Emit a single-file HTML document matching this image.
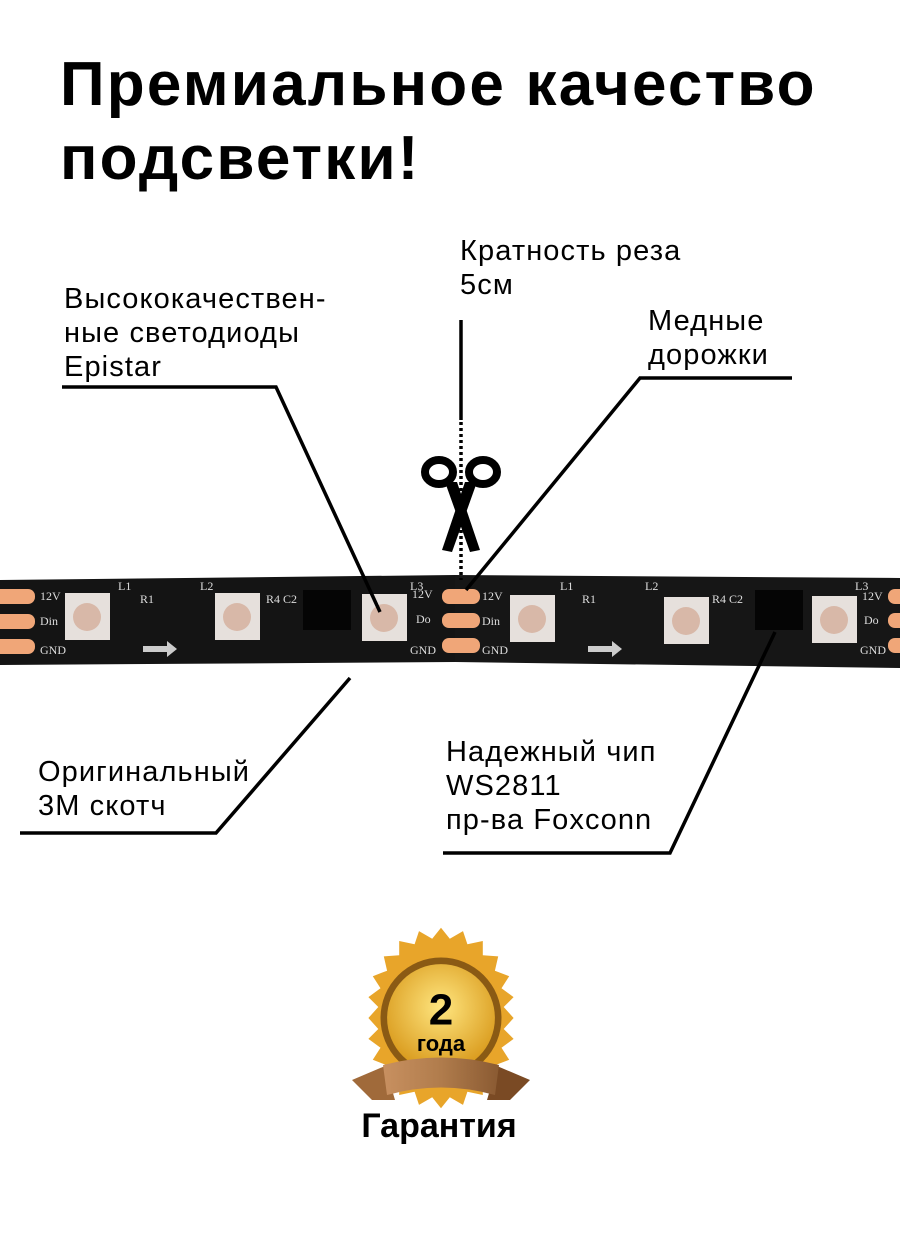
<!DOCTYPE html>
<html><head><meta charset="utf-8"><style>
html,body{margin:0;padding:0;background:#fff}
body{width:900px;height:1250px;position:relative;overflow:hidden;font-family:"Liberation Sans",sans-serif}
.t{position:absolute;left:60px;top:48px;font-size:62px;font-weight:bold;line-height:74px;color:#000;letter-spacing:2.2px}
.l{position:absolute;font-size:29px;line-height:34px;color:#000;letter-spacing:1.1px}
</style></head><body>
<div class="t">Премиальное качество<br>подсветки!</div>
<div class="l" style="left:460px;top:234px">Кратность реза<br>5см</div>
<div class="l" style="left:64px;top:282px">Высококачествен-<br>ные светодиоды<br>Epistar</div>
<div class="l" style="left:648px;top:304px">Медные<br>дорожки</div>
<div class="l" style="left:38px;top:755px">Оригинальный<br>3M скотч</div>
<div class="l" style="left:446px;top:735px">Надежный чип<br>WS2811<br>пр-ва Foxconn</div>
<svg width="900" height="1250" style="position:absolute;left:0;top:0">
<defs>
<radialGradient id="g" cx="50%" cy="40%" r="60%"><stop offset="0" stop-color="#ffe680"/><stop offset="1" stop-color="#d99a1c"/></radialGradient>
<linearGradient id="rb" x1="0" x2="1"><stop offset="0" stop-color="#c89060"/><stop offset=".5" stop-color="#b07c4c"/><stop offset="1" stop-color="#8a5a32"/></linearGradient>
</defs>
<polygon points="0,580 455,575 455,662 0,665" fill="#141414"/>
<polygon points="455,575 900,578 900,668 455,662" fill="#161616"/>
<g fill="#f0a678">
<rect x="-10" y="589" width="45" height="15" rx="7"/><rect x="-10" y="614" width="45" height="15" rx="7"/><rect x="-10" y="639" width="45" height="15" rx="7"/>
<rect x="442" y="589" width="38" height="15" rx="7"/><rect x="442" y="613" width="38" height="15" rx="7"/><rect x="442" y="638" width="38" height="15" rx="7"/>
<rect x="888" y="589" width="20" height="15" rx="7"/><rect x="888" y="613" width="20" height="15" rx="7"/><rect x="888" y="638" width="20" height="15" rx="7"/>
</g>
<g fill="#e6e0dc">
<rect x="65" y="593" width="45" height="47"/><rect x="215" y="593" width="45" height="47"/><rect x="362" y="594" width="45" height="47"/>
<rect x="510" y="595" width="45" height="47"/><rect x="664" y="597" width="45" height="47"/><rect x="812" y="596" width="45" height="47"/>
</g>
<g fill="#d8b8a8"><circle cx="87" cy="617" r="14"/><circle cx="237" cy="617" r="14"/><circle cx="384" cy="618" r="14"/><circle cx="532" cy="619" r="14"/><circle cx="686" cy="621" r="14"/><circle cx="834" cy="620" r="14"/></g>
<rect x="303" y="590" width="48" height="40" fill="#050505"/><rect x="755" y="590" width="48" height="40" fill="#050505"/>
<g fill="#ddd" font-family="Liberation Serif" font-size="12">
<text x="40" y="600">12V</text><text x="40" y="625">Din</text><text x="40" y="654">GND</text>
<text x="412" y="598">12V</text><text x="416" y="623">Do</text><text x="410" y="654">GND</text>
<text x="482" y="600">12V</text><text x="482" y="625">Din</text><text x="482" y="654">GND</text>
<text x="862" y="600">12V</text><text x="864" y="624">Do</text><text x="860" y="654">GND</text>
<text x="118" y="590">L1</text><text x="200" y="590">L2</text><text x="410" y="590">L3</text><text x="560" y="590">L1</text><text x="645" y="590">L2</text><text x="855" y="590">L3</text>
<text x="140" y="603">R1</text><text x="266" y="603">R4 C2</text><text x="582" y="603">R1</text><text x="712" y="603">R4 C2</text>
</g>
<path d="M143 646h24v-5l10 8-10 8v-5h-24z" fill="#ccc"/><path d="M588 646h24v-5l10 8-10 8v-5h-24z" fill="#ccc"/>
<g stroke="#000" stroke-width="3.5" fill="none">
<polyline points="62,387 276,387 380,612"/>
<polyline points="792,378 640,378 466,590"/>
<polyline points="20,833 216,833 350,678"/>
<polyline points="443,853 670,853 775,632"/>
<line x1="461" y1="320" x2="461" y2="420"/>
<line x1="461" y1="422" x2="461" y2="580" stroke-dasharray="3,3"/>
</g>
<g fill="#000">
<ellipse cx="439" cy="472" rx="14" ry="12" fill="none" stroke="#000" stroke-width="8"/>
<ellipse cx="483" cy="472" rx="14" ry="12" fill="none" stroke="#000" stroke-width="8"/>
<polygon points="445,482 457,482 480,550 470,552"/>
<polygon points="477,482 465,482 442,550 452,552"/>
</g>
<g transform="translate(441,1018) scale(1.1)">
<polygon fill="#e8a52a" points="0,-82 8,-72 20,-79 24,-67 38,-70 38,-57 52,-56 49,-43 62,-38 55,-27 66,-19 57,-10 66,0 57,10 66,19 55,27 62,38 49,43 52,56 38,57 38,70 24,67 20,79 8,72 0,82 -8,72 -20,79 -24,67 -38,70 -38,57 -52,56 -49,43 -62,38 -55,27 -66,19 -57,10 -66,0 -57,-10 -66,-19 -55,-27 -62,-38 -49,-43 -52,-56 -38,-57 -38,-70 -24,-67 -20,-79 -8,-72"/>
<circle r="55" fill="#8a5a14"/><circle r="49" fill="url(#g)"/>
<text x="0" y="6" text-anchor="middle" font-size="40" font-weight="bold" font-family="Liberation Sans">2</text>
<text x="0" y="30" text-anchor="middle" font-size="20" font-weight="bold" font-family="Liberation Sans">года</text>
</g>
<polygon points="352,1080 385,1066 395,1100 372,1100" fill="#a06a3a"/>
<polygon points="530,1080 497,1066 487,1100 510,1100" fill="#7a4a24"/>
<path d="M383 1065 Q441 1050 499 1065 L495 1095 Q441 1080 387 1095 Z" fill="url(#rb)"/>
<text x="439" y="1137" text-anchor="middle" font-size="34" font-weight="bold" font-family="Liberation Sans">Гарантия</text>
</svg>
</body></html>
